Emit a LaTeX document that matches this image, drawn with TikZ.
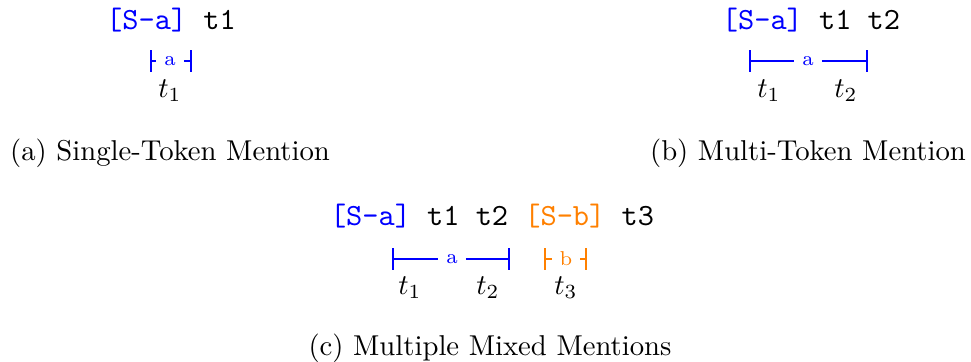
\documentclass[tikz,border=0pt]{standalone}
\usepackage{xcolor}
\usetikzlibrary{arrows.meta}

\begin{document}
\begin{tikzpicture}[x=0.3484pt,y=-0.3484pt,
  tok/.style={font=\fontsize{10.75}{13}\selectfont\ttfamily},
  lbl/.style={font=\scriptsize,inner sep=2.6pt},
  spanline/.style={line width=0.8pt},
  barl/.style={{Bar[width=7.5pt]}-},
  barr/.style={-{Bar[width=7.5pt]}}]
\useasboundingbox (0,0) rectangle (971,362);

% (a) single token
\node[tok] (txtA) at (171,20) {\textcolor{blue}{[S-a]} t1};
\coordinate (A1) at (150,61);
\coordinate (A2) at (192,61);
\node[lbl,text=blue] (la) at (170,61) {a};
\draw[spanline,blue,barl] (A1) -- (la);
\draw[spanline,blue,barr] (la) -- (A2);
\node (tA1) at (170,91) {$t_1$};
\node (capA) at (170,153) {(a) Single-Token Mention};

% (b) multi token
\node[tok] (txtB) at (811,20) {\textcolor{blue}{[S-a]} t1 t2};
\coordinate (B1) at (749,61);
\coordinate (B2) at (868,61);
\node[lbl,text=blue] (lb) at (808,61) {a};
\draw[spanline,blue,barl] (B1) -- (lb);
\draw[spanline,blue,barr] (lb) -- (B2);
\node (tB1) at (769,91) {$t_1$};
\node (tB2) at (846,91) {$t_2$};
\node (capB) at (808,153) {(b) Multi-Token Mention};

% (c) mixed
\node[tok] (txtC) at (492,216) {\textcolor{blue}{[S-a]} t1 t2 \textcolor{orange}{[S-b]} t3};
\coordinate (C1) at (392,259);
\coordinate (C2) at (510,259);
\node[lbl,text=blue] (lc) at (452,259) {a};
\draw[spanline,blue,barl] (C1) -- (lc);
\draw[spanline,blue,barr] (lc) -- (C2);
\coordinate (D1) at (544,259);
\coordinate (D2) at (587,259);
\node[lbl,text=orange] (ld) at (566,259) {b};
\draw[spanline,orange,barl] (D1) -- (ld);
\draw[spanline,orange,barr] (ld) -- (D2);
\node (tC1) at (410,288) {$t_1$};
\node (tC2) at (488,288) {$t_2$};
\node (tC3) at (566,288) {$t_3$};
\node (capC) at (490,348) {(c) Multiple Mixed Mentions};

\end{tikzpicture}
\end{document}
